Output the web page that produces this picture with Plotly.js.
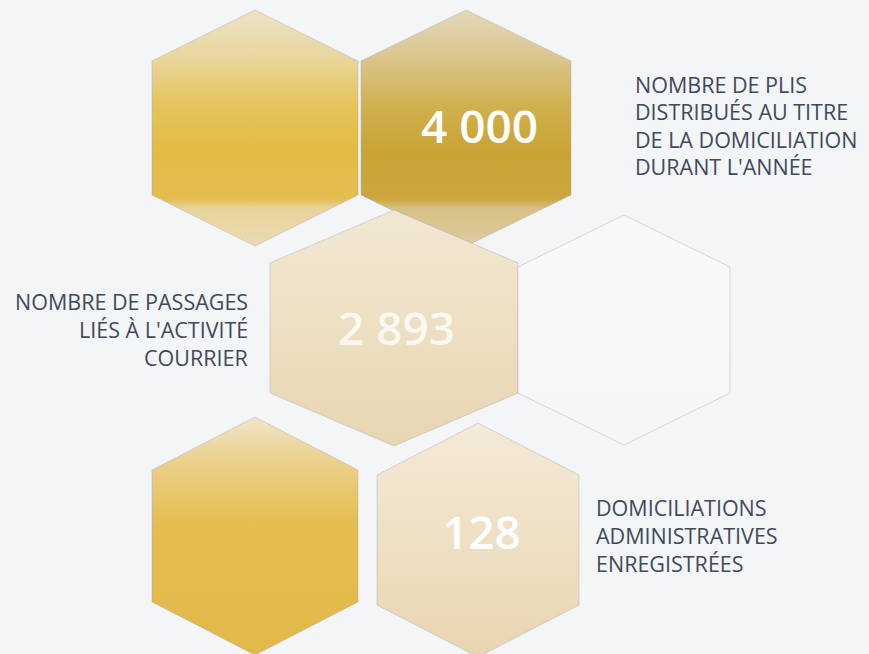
<!DOCTYPE html>
<html>
<head>
<meta charset="utf-8">
<script src="https://cdn.plot.ly/plotly-3.0.1.min.js"></script>
<style>
html,body{margin:0;padding:0;background:#f4f5f7;}
#chart{width:869px;height:654px;}
</style>
</head>
<body>
<div id="chart"></div>
<script>
// ---- data ----
var figures = ["4 000", "2 893", "128"];
var labelPlis = ["NOMBRE DE PLIS", "DISTRIBUÉS AU TITRE", "DE LA DOMICILIATION", "DURANT L'ANNÉE"];
var labelPassages = ["NOMBRE DE PASSAGES", "LIÉS À L'ACTIVITÉ", "COURRIER"];
var labelDomic = ["DOMICILIATIONS", "ADMINISTRATIVES", "ENREGISTRÉES"];

// ---- layout of the hexagons (pixel space); gradient stops listed top -> bottom ----
var hexes = [
  {cx:255, cy:128, w:103, r:118, h:67, grad:[[0,'#ece2c6'],[0.2,'#e9d79f'],[0.4,'#e4c45c'],[0.6,'#e2bb45'],[0.8,'#e3bd50'],[0.84,'#e8d39c'],[1,'#ebdbb0']]},
  {cx:466, cy:128, w:105, r:118, h:67, grad:[[0,'#e3d8b8'],[0.2,'#dac68e'],[0.4,'#d0b150'],[0.6,'#c9a434'],[0.8,'#cba63e'],[0.84,'#d6c084'],[1,'#ddcca0']]},
  {cx:394, cy:328, w:124, r:118, h:65, grad:[[0,'#f1e8d4'],[0.5,'#eddfc2'],[1,'#e8d6b2']]},
  {cx:624, cy:330, w:106, r:115, h:63, grad:[[0,'#f9f9fa'],[1,'#f6f6f8']]},
  {cx:255, cy:536, w:103, r:119, h:66, grad:[[0,'#efe5c8'],[0.2,'#eacf88'],[0.45,'#e4bd4f'],[1,'#e2b94a']]},
  {cx:478, cy:540, w:101, r:117, h:65, grad:[[0,'#f3ead8'],[0.5,'#eee0c4'],[1,'#e9d5b0']]}
];

function flip(scale){
  return scale.map(function(s){ return [1 - s[0], s[1]]; }).reverse();
}

var traces = hexes.map(function(hx){
  var xs = [hx.cx, hx.cx+hx.w, hx.cx+hx.w, hx.cx, hx.cx-hx.w, hx.cx-hx.w, hx.cx];
  var ys = [hx.cy-hx.r, hx.cy-hx.h, hx.cy+hx.h, hx.cy+hx.r, hx.cy+hx.h, hx.cy-hx.h, hx.cy-hx.r];
  return {
    type:'scatter', mode:'lines', x:xs, y:ys, fill:'toself',
    fillgradient:{type:'vertical', colorscale:flip(hx.grad)},
    line:{color:'rgba(165,165,175,0.4)', width:1},
    hoverinfo:'skip', showlegend:false
  };
});

var labelColor = '#3e4b5d';
var labelFont = {family:'Open Sans', size:21.5, color:labelColor};
var ann = [];
var numPos = [[479,125,1],[396,327,0.8],[481,531,1]];
figures.forEach(function(t,i){
  ann.push({x:numPos[i][0], y:numPos[i][1], xref:'x', yref:'y', text:t, showarrow:false,
    font:{family:'Open Sans', size:46, weight:600, color:'rgba(255,255,255,'+numPos[i][2]+')'},
    xanchor:'center', yanchor:'middle'});
});
labelPlis.forEach(function(t,i){
  ann.push({x:633, y:84+i*27.5, xref:'x', yref:'y', text:t, showarrow:false, font:labelFont, xanchor:'left', yanchor:'middle'});
});
labelPassages.forEach(function(t,i){
  ann.push({x:250, y:301+i*28, xref:'x', yref:'y', text:t, showarrow:false, font:labelFont, xanchor:'right', yanchor:'middle'});
});
labelDomic.forEach(function(t,i){
  ann.push({x:594, y:507+i*28, xref:'x', yref:'y', text:t, showarrow:false, font:labelFont, xanchor:'left', yanchor:'middle'});
});

var layout = {
  width:869, height:654,
  margin:{l:0,r:0,t:0,b:0},
  paper_bgcolor:'#f4f5f7', plot_bgcolor:'#f4f5f7',
  xaxis:{range:[0,869], visible:false, fixedrange:true},
  yaxis:{range:[654,0], visible:false, fixedrange:true},
  annotations:ann,
  showlegend:false
};
Plotly.newPlot('chart', traces, layout, {displayModeBar:false, staticPlot:true});
</script>
</body>
</html>
